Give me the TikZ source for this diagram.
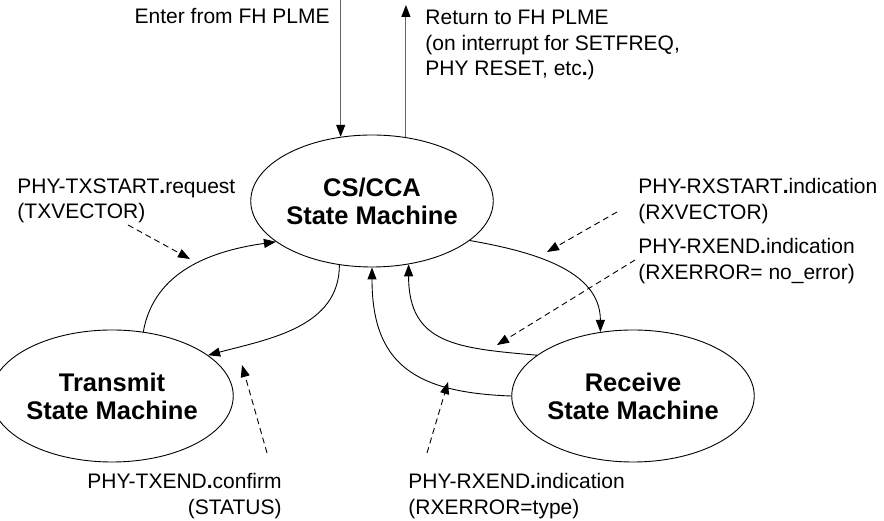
\documentclass[tikz,border=0pt]{standalone}
\usepackage{fontspec}
\setmainfont{Liberation Sans}
\usetikzlibrary{shapes.geometric,arrows.meta,calc}
\newcommand{\bdot}{{\bfseries .}}

\begin{document}
\begin{tikzpicture}[x=1pt, y=1pt, >={Triangle[length=12pt,width=9pt]},
  font=\fontsize{21}{25.5}\selectfont, line width=0.9pt,
  state/.style={draw, ellipse, inner sep=0pt, minimum width=198pt, minimum height=132pt,
    align=center, font=\fontsize{25.5}{28}\selectfont\bfseries},
  lbl/.style={inner sep=0pt},
  plme/.style={-{Triangle[length=12pt,width=9pt,color=black]}, draw=black!60, line width=1.1pt},
  trans/.style={->},
  sig/.style={->, dash pattern=on 6pt off 4pt}]
\useasboundingbox (0,0) rectangle (884,521);
% states
\node[state] (cs) at (372,320) {CS/CCA\\State Machine};
\node[state] (tx) at (112,125) {Transmit\\State Machine};
\node[state] (rx) at (633,125) {Receive\\State Machine};
% FH PLME in and out
\coordinate (enter) at (cs.116 |- 0,521);
\coordinate (ret) at (cs.62 |- 0,516);
\node[lbl, anchor=north east] (enterlbl) at (330,513) {Enter from FH PLME};
\node[lbl, anchor=north west, align=left] (retlbl) at (425,511)
  {Return to FH PLME\\(on interrupt for SETFREQ,\\PHY RESET, etc\bdot)};
\draw[plme] (enter) -- (cs.116);
\draw[plme] (cs.62) -- (ret);
% primitive labels
\node[lbl, anchor=north west, align=left] (txstart) at (17,343) {PHY-TXSTART\bdot request\\(TXVECTOR)};
\node[lbl, anchor=north east, align=right] (txend) at (282,48) {PHY-TXEND\bdot confirm\\(STATUS)};
\node[lbl, anchor=north west, align=left] (rxstart) at (638,343) {PHY-RXSTART\bdot indication\\(RXVECTOR)};
\node[lbl, anchor=north west, align=left] (rxok) at (638,283) {PHY-RXEND\bdot indication\\(RXERROR= no\_error)};
\node[lbl, anchor=north west, align=left] (rxerr) at (408,48) {PHY-RXEND\bdot indication\\(RXERROR=type)};
% transitions
\draw[trans] (tx.64) to[out=80, in=188] (cs.203);
\draw[trans] (cs.243) to[out=270, in=15] (tx.23);
\draw[trans] (cs.338) to[out=-10, in=90] (rx.117);
\draw[trans] (rx.157) to[out=175, in=270, looseness=1.3] (cs.300);
\draw[trans] (rx.west) to[out=178, in=270, looseness=1.3] (cs.south);
% dashed signal arrows
\coordinate (txs-a) at (128,296); \coordinate (txs-b) at (190,262);
\coordinate (txe-a) at (267,68);  \coordinate (txe-b) at (242,156);
\coordinate (rxs-a) at (617,309); \coordinate (rxs-b) at (547,269);
\coordinate (rxo-a) at (635,261); \coordinate (rxo-b) at (497,176);
\coordinate (rxe-a) at (427,68);  \coordinate (rxe-b) at (448,139);
\draw[sig] (txs-a) -- (txs-b);
\draw[sig] (txe-a) -- (txe-b);
\draw[sig] (rxs-a) -- (rxs-b);
\draw[sig] (rxo-a) -- (rxo-b);
\draw[sig] (rxe-a) -- (rxe-b);
\end{tikzpicture}
\end{document}
